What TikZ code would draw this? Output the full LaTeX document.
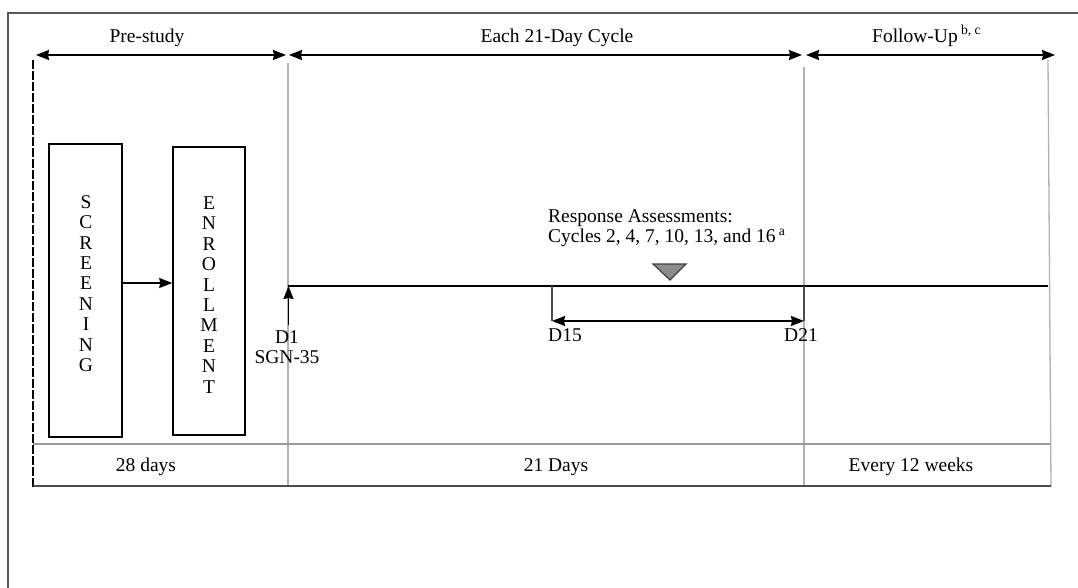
\documentclass[tikz,border=0pt]{standalone}
\usepackage{fontspec}
\setmainfont{Liberation Serif}
\usetikzlibrary{arrows.meta}
\begin{document}
\begin{tikzpicture}[x=1pt,y=-1pt,
  txt/.style={font=\fontsize{19.5}{20.4}\selectfont, inner sep=0pt, text=black},
  tipend/.style={-{Stealth[length=13pt,width=10pt,inset=1pt]}},
  twotips/.style={{Stealth[length=13pt,width=10pt,inset=1pt]}-{Stealth[length=13pt,width=10pt,inset=1pt]}},
  grayline/.style={draw=black!30, line width=1.3pt},
  darkline/.style={draw=black!70, line width=1.5pt},
  blackline/.style={draw=black, line width=1.5pt},
  stepbox/.style={draw=black, line width=1.5pt, inner sep=0pt, fill=none}]
\useasboundingbox (0,0) rectangle (1078,588);
\fill[white] (0,0) rectangle (1078,588);
% outer frame
\coordinate (fbl) at (8,588);
\coordinate (ftl) at (8,13);
\coordinate (ftr) at (1078,13);
\draw[draw=black!65, line width=2pt] (fbl) -- (ftl) -- (ftr);

% column coordinates
\coordinate (a0) at (36,55);
\coordinate (a1) at (286,55);
\coordinate (a2) at (289,55);
\coordinate (a3) at (802,55);
\coordinate (a4) at (806,55);
\coordinate (a5) at (1055,55);
\draw[blackline, twotips] (a0) -- (a1);
\draw[blackline, twotips] (a2) -- (a3);
\draw[blackline, twotips] (a4) -- (a5);

\node[txt, anchor=base] (lpre) at (147,42.5) {Pre-study};
\node[txt, anchor=base] (lcyc) at (557,42.5) {Each 21-Day Cycle};
\node[txt, anchor=base west] (lfol) at (872,42.5) {Follow-Up\,\textsuperscript{b, c}};

% vertical lines
\coordinate (v0t) at (33,60);   \coordinate (v0b) at (33,487);
\coordinate (v1t) at (288,63);  \coordinate (v1b) at (288,487);
\coordinate (v2t) at (804,67);  \coordinate (v2b) at (804,487);
\coordinate (v3t) at (1048,60); \coordinate (v3b) at (1051,487);
\draw[draw=black, line width=1.3pt, dash pattern=on 9pt off 2pt] (v0t) -- (v0b);
\draw[grayline] (v1t) -- (v1b);
\draw[grayline] (v2t) -- (v2b);
\draw[grayline] (v3t) -- (v3b);

% horizontal lines of bottom band
\coordinate (h1l) at (33,444); \coordinate (h1r) at (1051,444);
\coordinate (h2l) at (33,486); \coordinate (h2r) at (1051,486);
\draw[draw=black!40, line width=1.3pt] (h1l) -- (h1r);
\draw[darkline] (h2l) -- (h2r);

% boxes
\node[stepbox, minimum width=73pt, minimum height=293pt] (scr) at (85.5,290.5) {};
\node[stepbox, minimum width=72pt, minimum height=288pt] (enr) at (209,291) {};
\node[txt, align=center] (scrt) at (86,283.5) {S\\C\\R\\E\\E\\N\\I\\N\\G};
\node[txt, align=center] (enrt) at (209,295) {E\\N\\R\\O\\L\\L\\M\\E\\N\\T};
\draw[blackline, tipend] ([yshift=7.5pt]scr.east) coordinate (se) -- (se -| enr.west);

% timeline
\coordinate (t0) at (288,286);
\coordinate (t1) at (1048,286);
\draw[blackline] (t0) -- (t1);

% D1
\node[txt, align=center, anchor=north] (d1) at (287,330) {D1\\SGN-35};
\draw[blackline, tipend] ([xshift=1.5pt,yshift=5pt]d1.north) coordinate (d1a) -- (d1a |- t0);

% D15 - D21 bracket
\coordinate (p15) at (552,286);
\coordinate (q15) at (552,321);
\coordinate (p21) at (804,286);
\coordinate (q21) at (804,321);
\draw[darkline] (p15) -- (q15);
\draw[darkline] (p21) -- (q21);
\draw[blackline, twotips] (q15) -- (q21);
\node[txt, anchor=north west] (d15) at (548,328) {D15};
\node[txt, anchor=north] (d21) at (801,328) {D21};

% response assessment
\node[txt, anchor=west, align=left] (resp) at (548,228) {Response Assessments:\\Cycles 2, 4, 7, 10, 13, and 16\,\textsuperscript{a}};
\draw[fill=black!45, draw=black!75, line width=1.2pt] (653,264) -- (686,264) -- (670,280) -- cycle;

% bottom labels
\node[txt, anchor=base] (b1) at (146,471) {28 days};
\node[txt, anchor=base] (b2) at (556,471) {21 Days};
\node[txt, anchor=base] (b3) at (911,471) {Every 12 weeks};
\end{tikzpicture}
\end{document}
